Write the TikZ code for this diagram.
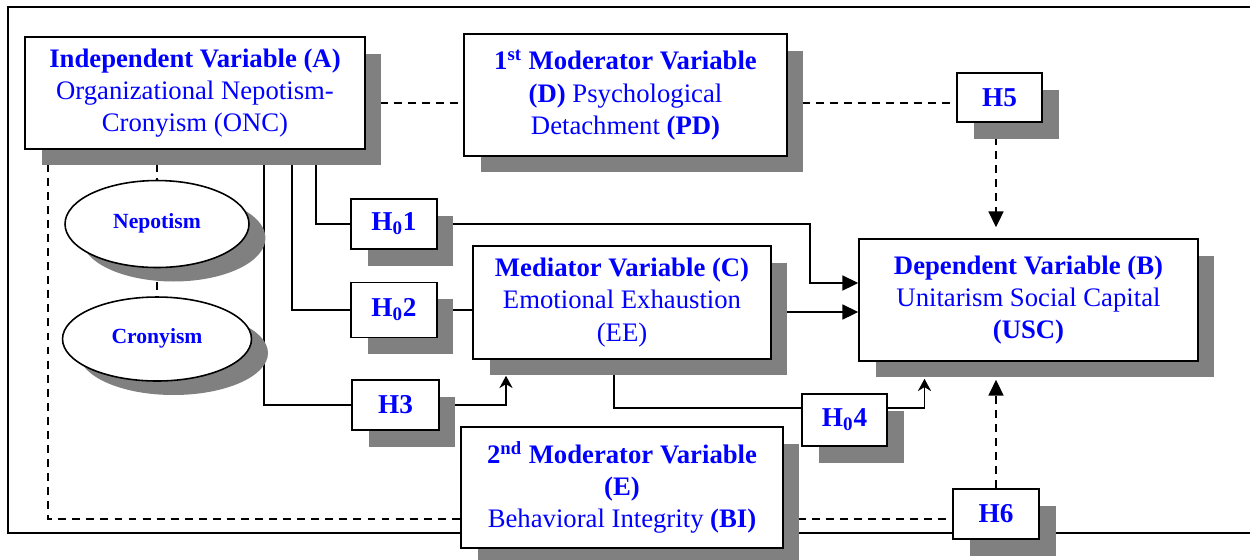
\documentclass[tikz,border=0pt]{standalone}
\usepackage{fontspec}
\setmainfont{Liberation Serif}
\usetikzlibrary{arrows.meta, shapes.geometric, shadows, backgrounds, calc}
\tikzset{%
	var/.style={draw, rectangle, fill=white, line width=0.9pt, align=center, text=blue,%
		inner sep=1mm, font=\fontsize{15.2}{18.3}\selectfont,%
		drop shadow={shadow xshift=0.33cm, shadow yshift=-0.33cm, fill=gray, opacity=1}},
	hyp/.style={var, font=\fontsize{15.5}{18}\selectfont\bfseries},
	facet/.style={draw, ellipse, fill=white, line width=0.9pt, inner sep=0mm, text=blue,%
		font=\fontsize{12.3}{14}\selectfont\bfseries,%
		drop shadow={shadow xshift=0.33cm, shadow yshift=-0.28cm, fill=gray, opacity=1}},
	connector/.style={line width=1pt},
	dashlink/.style={line width=1.1pt, dash pattern=on 4.5pt off 3.5pt},
	sel/.style={-{Triangle[length=9pt,width=8.5pt]}},
	hookarr/.style={-{Stealth[length=7pt,width=7.5pt]}}
}

\begin{document}
\begin{tikzpicture}[x=0.02cm, y=-0.02cm]
	\useasboundingbox (0,0) rectangle (1250,559);

	\node[var, minimum width=6.8cm, minimum height=2.24cm] (A) at (195,93)
		{\textbf{Independent Variable (A)}\\Organizational Nepotism-\\Cronyism (ONC)};
	\node[var, minimum width=6.46cm, minimum height=2.44cm] (D) at (625.5,95)
		{\textbf{1\textsuperscript{st} Moderator Variable}\\\textbf{(D)} Psychological\\Detachment \textbf{(PD)}};
	\node[hyp, minimum width=1.7cm, minimum height=0.98cm] (H5) at (999.5,97.5) {H5};
	\node[var, minimum width=6.78cm, minimum height=2.44cm] (B) at (1028.5,300)
		{\textbf{Dependent Variable (B)}\\Unitarism Social Capital\\\textbf{(USC)}};
	\node[facet, minimum width=3.68cm, minimum height=1.74cm] (nep) at (157,224) {\raisebox{3.4pt}{Nepotism}};
	\node[facet, minimum width=3.78cm, minimum height=1.68cm] (cro) at (157,339) {\raisebox{3.4pt}{Cronyism}};
	\node[hyp, minimum width=1.72cm, minimum height=1cm] (H01) at (394,224) {H\textsubscript{0}1};
	\node[hyp, minimum width=1.72cm, minimum height=1.1cm] (H02) at (394,310) {H\textsubscript{0}2};
	\node[hyp, minimum width=1.74cm, minimum height=1cm] (H3) at (395.5,405) {H3};
	\node[var, minimum width=5.96cm, minimum height=2.26cm] (C) at (622,302.5)
		{\textbf{Mediator Variable (C)}\\Emotional Exhaustion\\(EE)};
	\node[hyp, minimum width=1.7cm, minimum height=1.04cm] (H04) at (844.5,420) {H\textsubscript{0}4};
	\node[var, minimum width=6.44cm, minimum height=2.42cm] (E) at (622,487.5)
		{\textbf{2\textsuperscript{nd} Moderator Variable}\\\textbf{(E)}\\Behavioral Integrity \textbf{(BI)}};
	\node[hyp, minimum width=1.72cm, minimum height=1cm] (H6) at (996,514) {H6};

	\coordinate (mod1) at (0,103);
	\coordinate (mod2) at (0,519);
	\coordinate (lft) at (48,0);
	\coordinate (bin1) at ($(B.west)+(0,-17)$);
	\coordinate (bin2) at ($(B.west)+(0,12)$);

	\begin{scope}[on background layer]
		% frame
		\draw[connector] (1250,7) -| (8,533) -- (1250,533);

		% moderators
		\draw[dashlink] (A.east |- mod1) -- (D.west |- mod1);
		\draw[dashlink] (D.east |- mod1) -- (H5.west |- mod1);
		\draw[dashlink, sel] (H6.north |- H5.south) -- ($(H6.north |- B.north)+(0,-11)$);
		\draw[dashlink] (lft |- A.south) |- (E.west |- mod2);
		\draw[dashlink] (E.east |- mod2) -- (H6.west |- mod2);
		\draw[dashlink, sel] (H6.north) -- ($(H6.north |- B.south)+(0,18)$);

		% dimensions
		\draw[dashlink] (nep.north |- A.south) -- (nep.north);
		\draw[dashlink] (nep.south) -- (cro.north);

		% hypotheses
		\draw[connector] ($(A.south)+(121,0)$) |- (H01.west);
		\draw[connector] ($(A.south)+(97,0)$) |- (H02.west);
		\draw[connector] ($(A.south)+(69,0)$) |- (H3.west);
		\draw[connector, sel] (H01.east) -| ($(bin1)+(-48,0)$) -- (bin1);
		\draw[connector] (H02.east) -- (H02.east -| C.west);
		\draw[connector, sel] (C.east |- bin2) -- (bin2);
		\draw[connector, hookarr] (H3.east) -| ($(C.south)+(-116,16)$);
		\draw[connector] ($(C.south)+(-8,0)$) |- ($(H04.west)+(0,-12)$);
		\draw[connector, hookarr] ($(H04.east)+(0,-12)$) -| ($(B.south)+(-104,17)$);
	\end{scope}
\end{tikzpicture}
\end{document}
